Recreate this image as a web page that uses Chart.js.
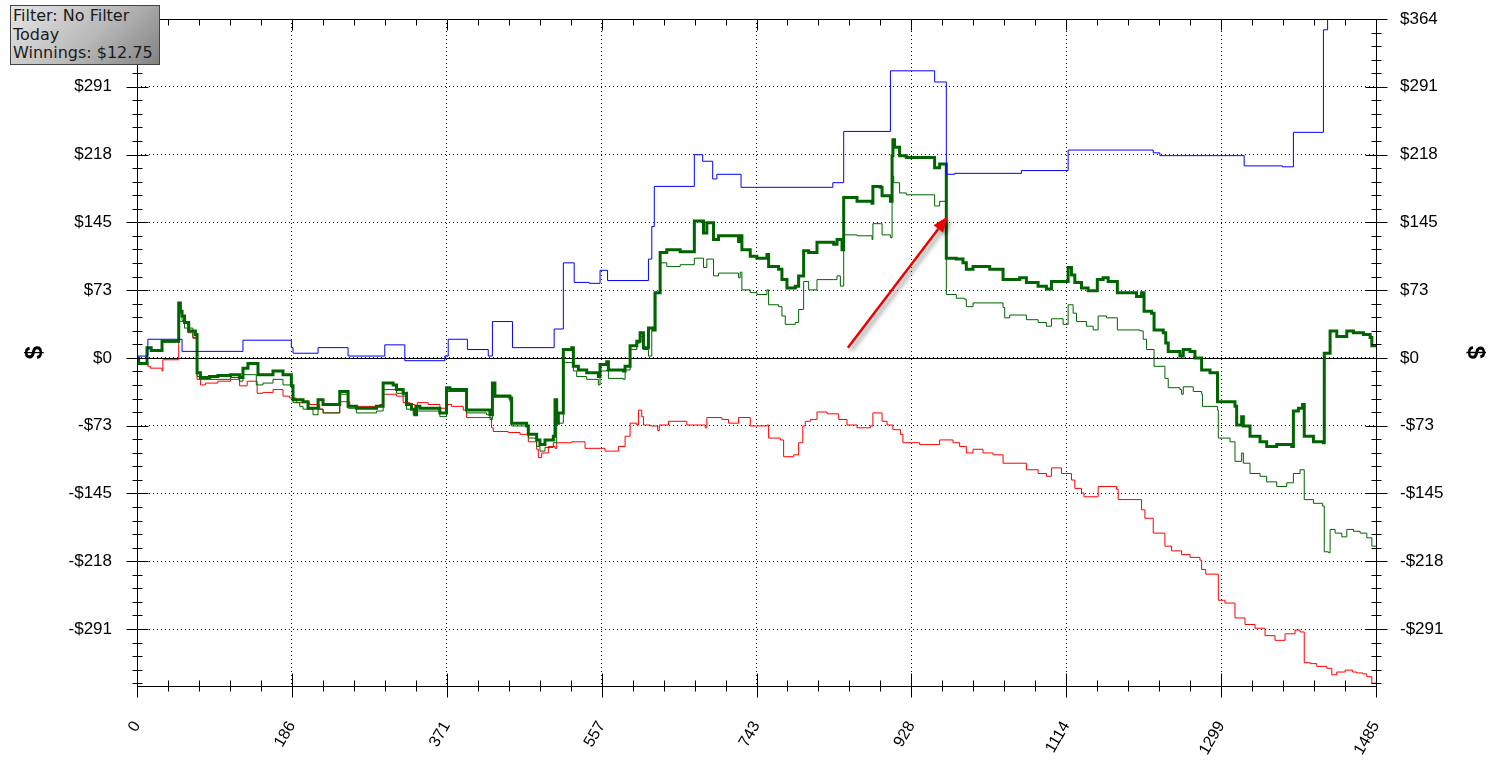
<!DOCTYPE html>
<html>
<head>
<meta charset="utf-8">
<script src="https://cdn.jsdelivr.net/npm/chart.js@4.4.0/dist/chart.umd.min.js"></script>
<style>
  body { margin: 0; background: #fff; }
  #wrap { position: relative; width: 1499px; height: 764px; }
  #info {
    position: absolute; left: 10px; top: 5px; width: 150px; height: 60px;
    box-sizing: border-box; border: 1px solid #444;
    background: linear-gradient(135deg, #e6e6e6 0%, #b8b8b8 55%, #828282 100%);
    font: 16px "DejaVu Sans", Verdana, sans-serif; line-height: 18.7px;
    color: #1a1a1a; padding: 1px 0 0 2px; white-space: nowrap;
  }
</style>
</head>
<body>
<div id="wrap">
  <canvas id="chart" width="1499" height="764"></canvas>
  <div id="info">Filter: No Filter<br>Today<br>Winnings: $12.75</div>
</div>
<script>
// axis ranges and ticks
const xMax = 1485;
const yMin = -352;
const yMax = 363.6;
const xTicks = [0, 185.625, 371.25, 556.875, 742.5, 928.125, 1113.75, 1299.375, 1485];
const xTickLabels = ["0", "186", "371", "557", "743", "928", "1114", "1299", "1485"];
const yTicks = [-290.88, -218.16, -145.44, -72.72, 0, 72.72, 145.44, 218.16, 290.88, 363.6];
const yTickLabels = ["-$291", "-$218", "-$145", "-$73", "$0", "$73", "$145", "$218", "$291", "$364"];

// series: [hand number, dollars] at each change
const peakWon = [[0,2],[13,20],[54,7],[127,19],[185,11],[187,5],[217,11],[253,2],[297,14],[321,-3],[369,2],[373,20],[396,9],[421,2],[426,39],[450,11],[500,31],[511,102],[524,81],[542,80],[555,94],[564,83],[613,106],[617,141],[620,184],[668,218],[678,211],[690,192],[695,197],[724,183],[834,188],[847,243],[903,308],[956,296],[970,197],[980,198],[1060,201],[1116,223],[1218,220],[1226,217],[1327,206],[1373,205],[1386,242],[1422,352],[1427,380],[1485,380]];

const nonShowdown = [[0,0],[2,-5],[13,-9],[16,-11],[30,-14],[31,-2],[50,39],[61,27],[67,21],[72,-23],[76,-29],[82,-27],[97,-25],[112,-23],[123,-30],[132,-25],[144,-38],[151,-37],[163,-34],[175,-41],[183,-43],[191,-48],[207,-50],[219,-55],[223,-59],[243,-47],[255,-52],[271,-52],[291,-50],[295,-39],[311,-41],[319,-48],[327,-50],[333,-61],[336,-48],[349,-50],[363,-54],[371,-50],[377,-52],[391,-56],[395,-64],[425,-75],[427,-79],[445,-80],[459,-82],[469,-90],[479,-98],[481,-107],[485,-102],[493,-95],[501,-97],[503,-91],[521,-90],[537,-97],[561,-100],[577,-95],[585,-84],[591,-70],[599,-72],[601,-56],[605,-63],[607,-72],[615,-73],[624,-78],[626,-72],[637,-68],[659,-72],[681,-75],[683,-64],[701,-66],[709,-70],[721,-64],[735,-73],[755,-72],[757,-86],[771,-88],[775,-106],[787,-104],[793,-91],[798,-73],[801,-68],[807,-66],[815,-58],[827,-60],[841,-66],[851,-72],[863,-75],[879,-73],[882,-59],[893,-68],[899,-72],[906,-77],[915,-82],[918,-91],[938,-93],[962,-88],[978,-91],[986,-95],[994,-102],[1002,-98],[1014,-102],[1026,-104],[1038,-113],[1066,-120],[1080,-124],[1090,-127],[1096,-118],[1108,-124],[1120,-131],[1124,-140],[1132,-145],[1135,-149],[1152,-138],[1174,-141],[1176,-152],[1202,-152],[1204,-163],[1208,-172],[1218,-188],[1232,-202],[1240,-207],[1252,-211],[1262,-214],[1274,-217],[1276,-227],[1281,-232],[1296,-260],[1304,-263],[1316,-279],[1328,-286],[1340,-290],[1352,-298],[1364,-303],[1376,-296],[1388,-292],[1394,-294],[1399,-327],[1406,-328],[1414,-331],[1426,-333],[1432,-340],[1438,-337],[1448,-335],[1457,-337],[1462,-338],[1469,-339],[1474,-342],[1480,-349],[1485,-350]];

const netWon = [[0,0],[2,-6],[12,11],[17,8],[30,18],[50,59],[52,50],[54,45],[57,38],[62,29],[70,25],[72,-16],[76,-21],[87,-20],[97,-19],[112,-18],[123,-21],[127,-11],[133,-6],[145,-18],[163,-14],[175,-18],[185,-30],[187,-45],[199,-47],[205,-54],[217,-45],[223,-50],[243,-36],[253,-52],[263,-54],[287,-52],[295,-27],[307,-29],[311,-34],[319,-38],[323,-50],[329,-55],[333,-61],[335,-52],[339,-54],[363,-59],[371,-32],[375,-34],[395,-56],[419,-56],[423,-61],[426,-27],[429,-41],[447,-43],[449,-70],[467,-73],[469,-82],[479,-88],[483,-93],[489,-88],[499,-84],[501,-45],[503,-70],[505,-59],[511,9],[521,11],[523,-9],[529,-13],[539,-16],[553,-20],[555,-7],[563,-4],[565,-13],[583,-14],[585,-9],[591,13],[599,18],[603,27],[607,11],[613,32],[619,30],[621,70],[627,113],[635,116],[651,114],[668,147],[679,134],[683,145],[691,127],[697,131],[721,125],[723,131],[725,116],[735,109],[743,107],[755,111],[757,98],[769,95],[773,84],[779,75],[789,77],[793,88],[799,115],[805,113],[815,124],[835,122],[839,127],[845,116],[847,172],[863,168],[881,166],[882,184],[891,183],[893,174],[903,168],[905,217],[906,234],[908,226],[914,217],[922,215],[956,204],[962,208],[970,107],[982,106],[990,102],[994,95],[1002,98],[1022,95],[1038,84],[1058,86],[1066,81],[1080,77],[1090,74],[1096,82],[1116,97],[1120,89],[1124,81],[1132,75],[1140,72],[1151,84],[1158,86],[1164,82],[1175,70],[1192,70],[1198,66],[1204,70],[1207,50],[1216,48],[1219,30],[1230,27],[1233,16],[1236,7],[1250,2],[1254,9],[1262,7],[1268,0],[1276,-13],[1286,-16],[1295,-47],[1316,-52],[1318,-72],[1324,-63],[1326,-73],[1334,-84],[1346,-90],[1354,-95],[1366,-93],[1384,-95],[1386,-57],[1392,-54],[1397,-50],[1399,-84],[1410,-90],[1422,-91],[1423,5],[1430,29],[1438,23],[1448,23],[1450,29],[1458,27],[1470,25],[1478,22],[1480,13],[1485,13]];

const netWonAdj = [[0,0],[2,-5],[12,10],[17,8],[30,17],[50,57],[52,48],[54,40],[57,32],[67,22],[72,-20],[76,-23],[112,-21],[123,-25],[127,-18],[143,-29],[151,-27],[163,-23],[175,-29],[185,-30],[187,-48],[195,-52],[199,-55],[211,-61],[217,-55],[223,-59],[243,-39],[253,-54],[263,-59],[287,-57],[295,-34],[311,-38],[319,-41],[323,-55],[331,-61],[335,-57],[363,-63],[371,-36],[395,-59],[419,-61],[423,-66],[426,-42],[447,-47],[449,-73],[469,-86],[479,-95],[483,-100],[489,-96],[499,-91],[503,-70],[511,-5],[523,-14],[527,-20],[539,-23],[553,-29],[555,-14],[563,-13],[565,-22],[583,-23],[585,-13],[591,9],[599,16],[603,23],[607,9],[613,2],[617,32],[620,70],[627,102],[635,98],[651,100],[668,107],[679,97],[683,106],[691,88],[697,91],[721,86],[723,92],[725,73],[735,70],[743,68],[755,73],[757,57],[769,55],[773,45],[777,36],[789,38],[793,52],[799,82],[805,73],[815,84],[835,84],[839,88],[843,77],[847,132],[863,131],[881,127],[882,144],[891,144],[893,132],[903,129],[905,195],[907,188],[914,177],[922,175],[956,163],[962,168],[970,68],[982,64],[992,63],[994,55],[1002,59],[1038,54],[1040,43],[1046,46],[1066,41],[1080,38],[1090,34],[1096,42],[1110,36],[1116,57],[1122,48],[1126,39],[1138,34],[1146,30],[1152,45],[1162,43],[1175,30],[1202,29],[1206,20],[1210,9],[1219,-9],[1232,-22],[1236,-32],[1250,-34],[1252,-39],[1254,-31],[1266,-36],[1276,-39],[1277,-52],[1295,-56],[1296,-86],[1310,-90],[1316,-111],[1324,-102],[1326,-113],[1334,-124],[1346,-127],[1354,-133],[1366,-138],[1378,-134],[1386,-124],[1394,-120],[1399,-152],[1410,-156],[1421,-159],[1423,-208],[1428,-209],[1430,-184],[1436,-188],[1444,-192],[1450,-184],[1458,-186],[1466,-188],[1474,-193],[1480,-202],[1485,-202]];

// annotation arrow, in data units
const arrowFrom = [852, 11];
const arrowTo = [972, 152];

const toPts = arr => arr.map(p => ({ x: p[0], y: p[1] }));

// zero line drawn under the data
const zeroLine = {
  id: "zeroLine",
  beforeDatasetsDraw(chart) {
    const { ctx, chartArea: a, scales: { y } } = chart;
    const py = Math.round(y.getPixelForValue(0)) + 0.5;
    ctx.save();
    ctx.strokeStyle = "#000";
    ctx.lineWidth = 1;
    ctx.beginPath();
    ctx.moveTo(a.left, py);
    ctx.lineTo(a.right, py);
    ctx.stroke();
    ctx.restore();
  },
};

// frame with major and minor tick marks on all four sides
const frame = {
  id: "frame",
  afterDatasetsDraw(chart) {
    const { ctx, chartArea: a, scales: { x, y } } = chart;
    const L = Math.round(a.left) + 0.5, R = Math.round(a.right) + 0.5;
    const T = Math.round(a.top) + 0.5, B = Math.round(a.bottom) + 0.5;
    ctx.save();
    ctx.strokeStyle = "#000";
    ctx.lineWidth = 1;
    ctx.beginPath();
    ctx.rect(L, T, R - L, B - T);
    const xMinor = xTicks[1] / 5;
    for (let i = 0; i * xMinor <= xMax + 0.01; i++) {
      const px = Math.round(x.getPixelForValue(i * xMinor)) + 0.5;
      const major = i % 5 === 0;
      ctx.moveTo(px, B - (major ? 13 : 6));
      ctx.lineTo(px, B + (major ? 11 : 5));
      ctx.moveTo(px, T);
      ctx.lineTo(px, T + (major ? 11 : 6));
    }
    const yMinor = yTicks[5] / 5;
    for (let k = Math.ceil(yMin / yMinor); k * yMinor <= yMax + 0.01; k++) {
      const py = Math.round(y.getPixelForValue(k * yMinor)) + 0.5;
      const len = k % 5 === 0 ? 11 : 5;
      ctx.moveTo(L - len, py);
      ctx.lineTo(L + len, py);
      ctx.moveTo(R - len, py);
      ctx.lineTo(R + len, py);
    }
    ctx.stroke();
    ctx.restore();
  },
};

const arrow = {
  id: "arrow",
  afterDatasetsDraw(chart) {
    const { ctx, scales: { x, y } } = chart;
    const x0 = x.getPixelForValue(arrowFrom[0]), y0 = y.getPixelForValue(arrowFrom[1]);
    const x1 = x.getPixelForValue(arrowTo[0]), y1 = y.getPixelForValue(arrowTo[1]);
    const ang = Math.atan2(y1 - y0, x1 - x0);
    const head = 16, half = 6;
    const bx = x1 - head * Math.cos(ang), by = y1 - head * Math.sin(ang);
    ctx.save();
    ctx.shadowColor = "rgba(0,0,0,0.45)";
    ctx.shadowBlur = 4;
    ctx.shadowOffsetX = 3;
    ctx.shadowOffsetY = 3;
    ctx.strokeStyle = "#f00000";
    ctx.fillStyle = "#f00000";
    ctx.lineWidth = 2.5;
    ctx.beginPath();
    ctx.moveTo(x0, y0);
    ctx.lineTo(bx, by);
    ctx.stroke();
    ctx.beginPath();
    ctx.moveTo(x1, y1);
    ctx.lineTo(bx + half * Math.sin(ang), by - half * Math.cos(ang));
    ctx.lineTo(bx - half * Math.sin(ang), by + half * Math.cos(ang));
    ctx.closePath();
    ctx.fill();
    ctx.restore();
  },
};

const tickFont = { family: "'Liberation Sans', Arial, sans-serif", size: 17 };
const yTicksFrom = axis => { axis.ticks = yTicks.map(v => ({ value: v })); };
const yLabel = (v, i) => yTickLabels[i];
const fitY = w => axis => { axis.width = w; axis.paddingTop = 0; axis.paddingBottom = 0; };

new Chart(document.getElementById("chart").getContext("2d"), {
  type: "line",
  data: {
    datasets: [
      { data: toPts(peakWon), borderColor: "#0000ff", borderWidth: 1 },
      { data: toPts(netWon), borderColor: "#006400", borderWidth: 3 },
      { data: toPts(netWonAdj), borderColor: "#006400", borderWidth: 1 },
      { data: toPts(nonShowdown), borderColor: "#ff0000", borderWidth: 1 },
    ].map(d => ({ ...d, stepped: true, pointRadius: 0, fill: false, tension: 0 })),
  },
  options: {
    responsive: false,
    animation: false,
    layout: { padding: { top: 19, left: 0, right: 0, bottom: 0 } },
    plugins: { legend: { display: false }, tooltip: { enabled: false } },
    scales: {
      x: {
        type: "linear",
        min: 0,
        max: xMax,
        afterBuildTicks: axis => { axis.ticks = xTicks.map(v => ({ value: v })); },
        afterFit: axis => { axis.height = 78; axis.paddingLeft = 0; axis.paddingRight = 0; },
        grid: { color: "#000", lineWidth: 1, drawTicks: false },
        border: { display: false, dash: [1, 3] },
        ticks: {
          autoSkip: false, maxRotation: 60, minRotation: 60, padding: 32,
          color: "#000", font: { family: "'Liberation Sans', Arial, sans-serif", size: 16 },
          callback: (v, i) => xTickLabels[i],
        },
      },
      y: {
        type: "linear",
        position: "left",
        min: yMin,
        max: yMax,
        afterBuildTicks: yTicksFrom,
        afterFit: fitY(137),
        grid: { color: "#000", lineWidth: 1, drawTicks: false },
        border: { display: false, dash: [1, 3] },
        ticks: { padding: 25, color: "#000", font: tickFont, callback: yLabel },
        title: {
          display: true, text: "$", color: "#000", padding: { top: 21, bottom: 0 },
          font: { family: "'Liberation Sans', Arial, sans-serif", size: 24, weight: "bold" },
        },
      },
      y2: {
        type: "linear",
        position: "right",
        min: yMin,
        max: yMax,
        afterBuildTicks: yTicksFrom,
        afterFit: fitY(123),
        grid: { drawOnChartArea: false, drawTicks: false },
        border: { display: false },
        ticks: { padding: 24, color: "#000", font: tickFont, callback: yLabel },
        title: {
          display: true, text: "$", color: "#000", padding: { top: 10, bottom: 0 },
          font: { family: "'Liberation Sans', Arial, sans-serif", size: 24, weight: "bold" },
        },
      },
    },
  },
  plugins: [zeroLine, frame, arrow],
});
</script>
</body>
</html>
